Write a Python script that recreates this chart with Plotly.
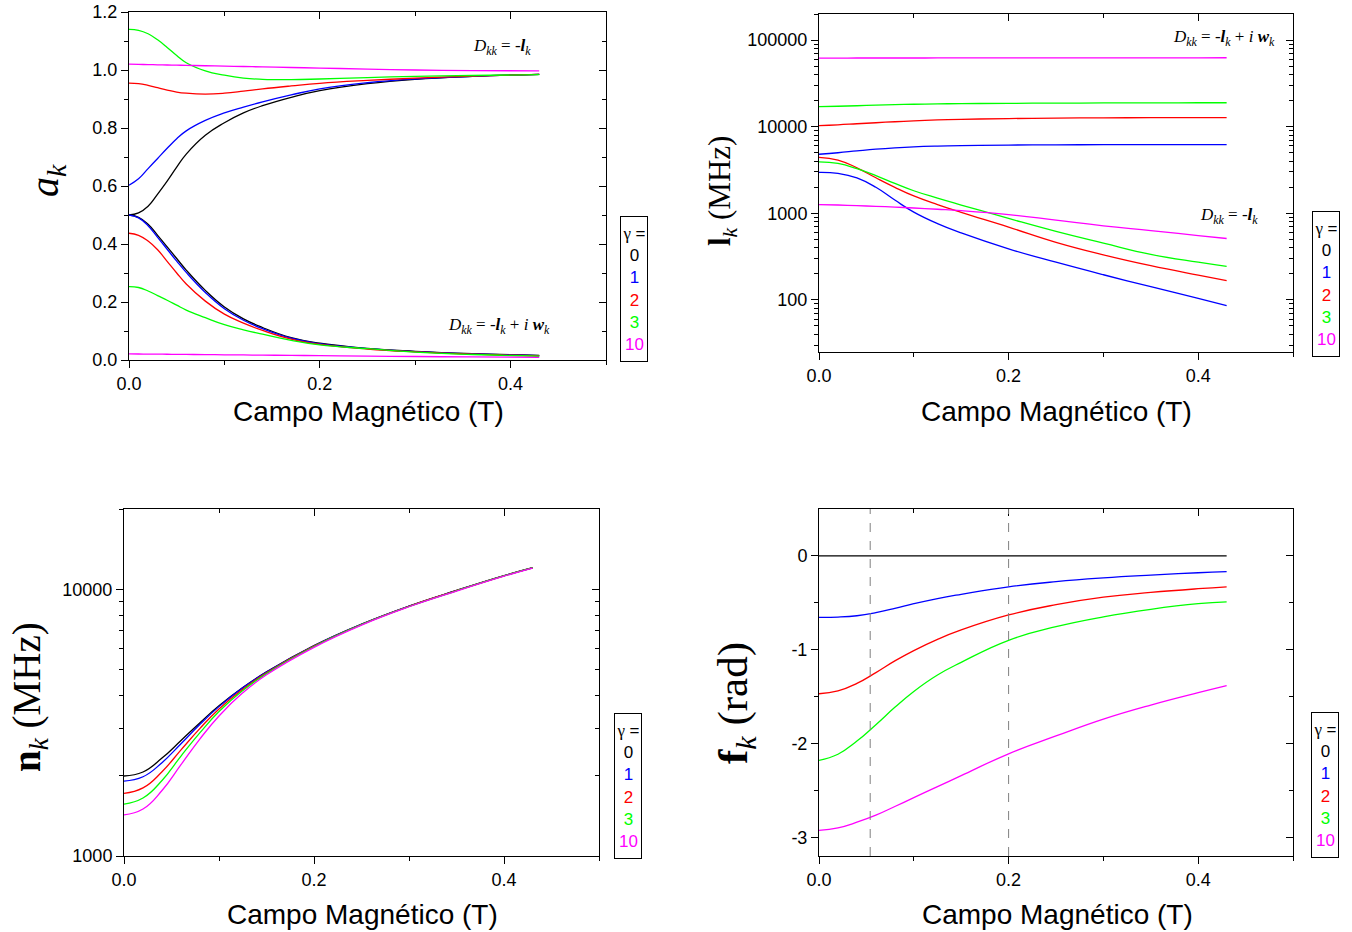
import math
import plotly.graph_objects as go

W, H = 1352, 932
def px(x): return x / W
def py(y): return 1 - y / H

gammas = ["0", "1", "2", "3", "10"]
colors = ["#000000", "#0000FF", "#FF0000", "#00FF00", "#FF00FF"]

# ---------- Panel 1: alpha_k ----------
x_a = [0, 0.01, 0.02, 0.03, 0.04, 0.05, 0.06, 0.08, 0.1, 0.12, 0.14, 0.17, 0.2, 0.25, 0.3, 0.36, 0.43]
a_up = {
    "0": [0.5, 0.507, 0.530, 0.572, 0.617, 0.665, 0.71, 0.775, 0.818, 0.852, 0.877, 0.906, 0.929, 0.953, 0.968, 0.978, 0.985],
    "1": [0.603, 0.625, 0.66, 0.695, 0.73, 0.763, 0.79, 0.826, 0.852, 0.872, 0.89, 0.914, 0.935, 0.956, 0.969, 0.978, 0.985],
    "2": [0.955, 0.953, 0.947, 0.939, 0.931, 0.924, 0.92, 0.917, 0.92, 0.927, 0.935, 0.945, 0.954, 0.964, 0.972, 0.979, 0.985],
    "3": [1.14, 1.137, 1.125, 1.104, 1.078, 1.05, 1.025, 0.997, 0.982, 0.972, 0.968, 0.967, 0.969, 0.974, 0.978, 0.981, 0.984],
    "10": [1.02, 1.0193, 1.0187, 1.018, 1.0173, 1.0167, 1.016, 1.0147, 1.0133, 1.012, 1.0107, 1.0087, 1.0067, 1.0033, 1.0, 0.998, 0.997],
}
a_lo = {
    "0": [0.5, 0.492, 0.468, 0.43, 0.39, 0.35, 0.31, 0.24, 0.183, 0.142, 0.112, 0.077, 0.058, 0.040, 0.030, 0.022, 0.016],
    "1": [0.5, 0.490, 0.463, 0.423, 0.382, 0.341, 0.302, 0.233, 0.177, 0.137, 0.108, 0.075, 0.056, 0.039, 0.029, 0.021, 0.015],
    "2": [0.437, 0.43, 0.41, 0.38, 0.34, 0.30, 0.262, 0.203, 0.158, 0.127, 0.102, 0.072, 0.054, 0.038, 0.028, 0.020, 0.014],
    "3": [0.253, 0.25, 0.238, 0.222, 0.206, 0.189, 0.172, 0.146, 0.122, 0.104, 0.089, 0.068, 0.052, 0.039, 0.027, 0.019, 0.013],
    "10": [0.021, 0.0207, 0.0204, 0.0201, 0.0198, 0.0195, 0.0192, 0.0186, 0.018, 0.0174, 0.0168, 0.0159, 0.015, 0.0135, 0.012, 0.0105, 0.009],
}

# common field grid for the other panels (T)
x_b = [0, 0.02, 0.04, 0.06, 0.08, 0.1, 0.125, 0.15, 0.2, 0.25, 0.3, 0.35, 0.4, 0.43]

# ---------- Panel 2: lambda_k (MHz) ----------
l_up = {
    "1": [4800, 5000, 5250, 5500, 5700, 5850, 5970, 6050, 6130, 6170, 6190, 6200, 6200, 6200],
    "2": [10300, 10500, 10800, 11100, 11400, 11650, 11950, 12150, 12400, 12550, 12650, 12700, 12720, 12730],
    "3": [17000, 17200, 17450, 17700, 17950, 18150, 18350, 18450, 18600, 18700, 18780, 18840, 18880, 18900],
    "10": [62000, 62000, 62050, 62050, 62100, 62100, 62150, 62200, 62250, 62300, 62350, 62400, 62450, 62500],
}
l_lo = {
    "1": [2972, 2890, 2560, 1995, 1420, 1030, 759, 592, 388, 272, 195, 142, 104, 86],
    "2": [4426, 4121, 3350, 2570, 1995, 1585, 1259, 1023, 692, 462, 331, 248, 193, 167],
    "3": [3917, 3758, 3273, 2723, 2213, 1820, 1496, 1245, 871, 617, 452, 335, 272, 243],
    "10": [1259, 1245, 1225, 1202, 1178, 1151, 1112, 1072, 966, 832, 716, 631, 553, 511],
}

# ---------- Panel 3: nu_k (MHz) ----------
n_k = {
    "0": [1995, 2065, 2328, 2710, 3162, 3656, 4280, 4900, 6150, 7400, 8650, 9900, 11250, 12050],
    "1": [1910, 1982, 2239, 2636, 3119, 3631, 4270, 4890, 6140, 7390, 8640, 9890, 11240, 12040],
    "2": [1718, 1800, 2070, 2500, 3010, 3560, 4220, 4860, 6120, 7380, 8630, 9880, 11230, 12030],
    "3": [1566, 1650, 1920, 2370, 2900, 3480, 4170, 4830, 6100, 7370, 8620, 9870, 11220, 12020],
    "10": [1426, 1500, 1760, 2200, 2750, 3350, 4090, 4780, 6060, 7340, 8600, 9850, 11200, 12010],
}

# ---------- Panel 4: phi_k (rad) ----------
f_k = {
    "0": [0, 0, 0, 0, 0, 0, 0, 0, 0, 0, 0, 0, 0, 0],
    "1": [-0.655, -0.652, -0.638, -0.605, -0.56, -0.51, -0.455, -0.41, -0.33, -0.275, -0.235, -0.205, -0.18, -0.168],
    "2": [-1.47, -1.44, -1.36, -1.245, -1.12, -1.01, -0.89, -0.79, -0.63, -0.52, -0.44, -0.39, -0.35, -0.33],
    "3": [-2.18, -2.115, -1.975, -1.80, -1.615, -1.445, -1.27, -1.135, -0.90, -0.755, -0.65, -0.57, -0.51, -0.49],
    "10": [-2.926, -2.90, -2.84, -2.765, -2.672, -2.578, -2.46, -2.343, -2.11, -1.92, -1.74, -1.59, -1.458, -1.383],
}
f_markers = [0.054, 0.2]

fig = go.Figure()

def add_line(x, y, color, ax):
    fig.add_trace(go.Scatter(x=x, y=y, mode="lines",
                             line=dict(color=color, width=1.3, shape="spline", smoothing=1.3),
                             xaxis="x" + ax, yaxis="y" + ax, showlegend=False,
                             hoverinfo="skip"))

for g, c in zip(gammas, colors):
    add_line(x_a, a_up[g], c, "")
    add_line(x_a, a_lo[g], c, "")
for g, c in zip(gammas, colors):
    if g in l_up:
        add_line(x_b, l_up[g], c, "2")
        add_line(x_b, l_lo[g], c, "2")
for g, c in zip(gammas, colors):
    add_line(x_b, n_k[g], c, "3")
for g, c in zip(gammas, colors):
    add_line(x_b, f_k[g], c, "4")

# dummy traces so that mirrored (inward) tick axes are drawn
for i in range(5, 9):
    fig.add_trace(go.Scatter(x=[None], y=[None], xaxis="x%d" % i, yaxis="y%d" % i,
                             showlegend=False, hoverinfo="skip"))

panels = {
    1: dict(x0=129, x1=606, y0=12, y1=360),
    2: dict(x0=819, x1=1293, y0=14, y1=352),
    3: dict(x0=124, x1=599, y0=509, y1=856),
    4: dict(x0=819, x1=1293, y0=509, y1=856),
}

tickfont = dict(family="Liberation Sans, Arial, sans-serif", size=18, color="black")

def decade_minor(lo_exp, hi_exp):
    vals = []
    for e in range(lo_exp, hi_exp + 1):
        for m in range(2, 10):
            vals.append(m * 10 ** e)
    return vals

ycfg = {
    1: dict(range=[0, 1.2], tickmode="linear", tick0=0, dtick=0.2, tickformat=".1f",
            minor=dict(dtick=0.1, tick0=0)),
    2: dict(type="log", range=[math.log10(25), math.log10(2e5)], tickmode="array",
            tickvals=[100, 1000, 10000, 100000], ticktext=["100", "1000", "10000", "100000"],
            minor=dict(tickmode="array", tickvals=decade_minor(1, 5))),
    3: dict(type="log", range=[3, math.log10(2e4)], tickmode="array",
            tickvals=[1000, 10000], ticktext=["1000", "10000"],
            minor=dict(tickmode="array", tickvals=decade_minor(3, 4))),
    4: dict(range=[-3.2, 0.5], tickmode="array", tickvals=[-3, -2, -1, 0],
            ticktext=["-3", "-2", "-1", "0"],
            minor=dict(tickmode="array", tickvals=[-2.5, -1.5, -0.5])),
}

layout = dict(width=W, height=H, margin=dict(l=0, r=0, t=0, b=0, autoexpand=False),
              paper_bgcolor="white", plot_bgcolor="white", showlegend=False)

for i, p in panels.items():
    s = "" if i == 1 else str(i)
    xd = [px(p["x0"]), px(p["x1"])]
    yd = [py(p["y1"]), py(p["y0"])]
    base_x = dict(domain=xd, range=[0, 0.5], tickmode="linear", tick0=0, dtick=0.2,
                  tickformat=".1f", showgrid=False, zeroline=False, automargin=False)
    yc = dict(ycfg[i])
    minor_y = dict(yc.pop("minor"))
    base_y = dict(domain=yd, showgrid=False, zeroline=False, automargin=False, **yc)
    layout["xaxis" + s] = dict(base_x, anchor="y" + s, ticks="outside", ticklen=7,
                               tickwidth=1, tickcolor="black", linecolor="black",
                               linewidth=1, mirror=True, tickfont=tickfont,
                               minor=dict(dtick=0.1, tick0=0, ticks="outside", ticklen=4,
                                          tickcolor="black", tickwidth=1))
    layout["yaxis" + s] = dict(base_y, anchor="x" + s, ticks="outside", ticklen=7,
                               tickwidth=1, tickcolor="black", linecolor="black",
                               linewidth=1, mirror=True, tickfont=tickfont,
                               minor=dict(minor_y, ticks="outside", ticklen=4,
                                          tickcolor="black", tickwidth=1))
    j = i + 4
    layout["xaxis%d" % j] = dict(base_x, overlaying="x" + s, side="top", anchor="y%d" % j,
                                 ticks="inside", ticklen=7, tickcolor="black",
                                 showticklabels=False, showline=False,
                                 minor=dict(dtick=0.1, tick0=0, ticks="inside", ticklen=4,
                                            tickcolor="black"))
    layout["yaxis%d" % j] = dict(base_y, overlaying="y" + s, side="right", anchor="x%d" % j,
                                 ticks="inside", ticklen=7, tickcolor="black",
                                 showticklabels=False, showline=False,
                                 minor=dict(minor_y, ticks="inside", ticklen=4,
                                            tickcolor="black"))

fig.update_layout(**layout)

# dashed markers in panel 4
for xv in f_markers:
    fig.add_shape(type="line", xref="x4", yref="y4 domain", x0=xv, x1=xv, y0=0, y1=1,
                  line=dict(color="#808080", width=1, dash="dash"))

serif = "Liberation Serif, Times New Roman, serif"
sans = "Liberation Sans, Arial, sans-serif"

def ann(text, x, y, size, family, angle=0, **kw):
    fig.add_annotation(text=text, x=px(x), y=py(y), xref="paper", yref="paper",
                       xanchor="center", yanchor="middle", showarrow=False,
                       textangle=angle, font=dict(family=family, size=size, color="black"), **kw)

# x-axis titles
for cx, cy in [(368, 411), (1056, 411), (362, 914), (1057, 914)]:
    ann("Campo Magnético (T)", cx, cy, 28, sans)

# y-axis titles
ann("<i>a</i><sub><i>k</i></sub>", 47, 180, 40, serif, angle=-90)
ann("<b>l</b><sub><i>k</i></sub> (MHz)", 722, 191, 31, serif, angle=-90)
ann("<b>n</b><sub><i>k</i></sub> (MHz)", 29, 697, 39, serif, angle=-90)
ann("<b>f</b><sub><i>k</i></sub> (rad)", 736, 703, 43, serif, angle=-90)

# in-plot labels
d1 = "<i>D</i><sub><i>kk</i></sub> = -<b><i>l</i></b><sub><i>k</i></sub>"
d2 = "<i>D</i><sub><i>kk</i></sub> = -<b><i>l</i></b><sub><i>k</i></sub> + <i>i</i> <b><i>w</i></b><sub><i>k</i></sub>"
ann(d1, 502, 47, 17, serif)
ann(d2, 499, 326, 17, serif)
ann(d2, 1224, 38, 17, serif)
ann(d1, 1229, 216, 17, serif)

# gamma legends
leg = "<span style='font-family:Liberation Serif'>γ</span> =" + "".join(
    "<br><span style='color:%s'>%s</span>" % (c, g) for g, c in zip(gammas, colors))
for cx, cy in [(634, 289), (1325.5, 283.5), (628, 785.5), (1325, 785)]:
    fig.add_annotation(text=leg, x=px(cx), y=py(cy), xref="paper", yref="paper",
                       xanchor="center", yanchor="middle", showarrow=False,
                       font=dict(family=sans, size=17, color="black"),
                       bordercolor="black", borderwidth=1, borderpad=2,
                       bgcolor="white", width=22, height=140, align="center")

fig.write_html("out.html")
